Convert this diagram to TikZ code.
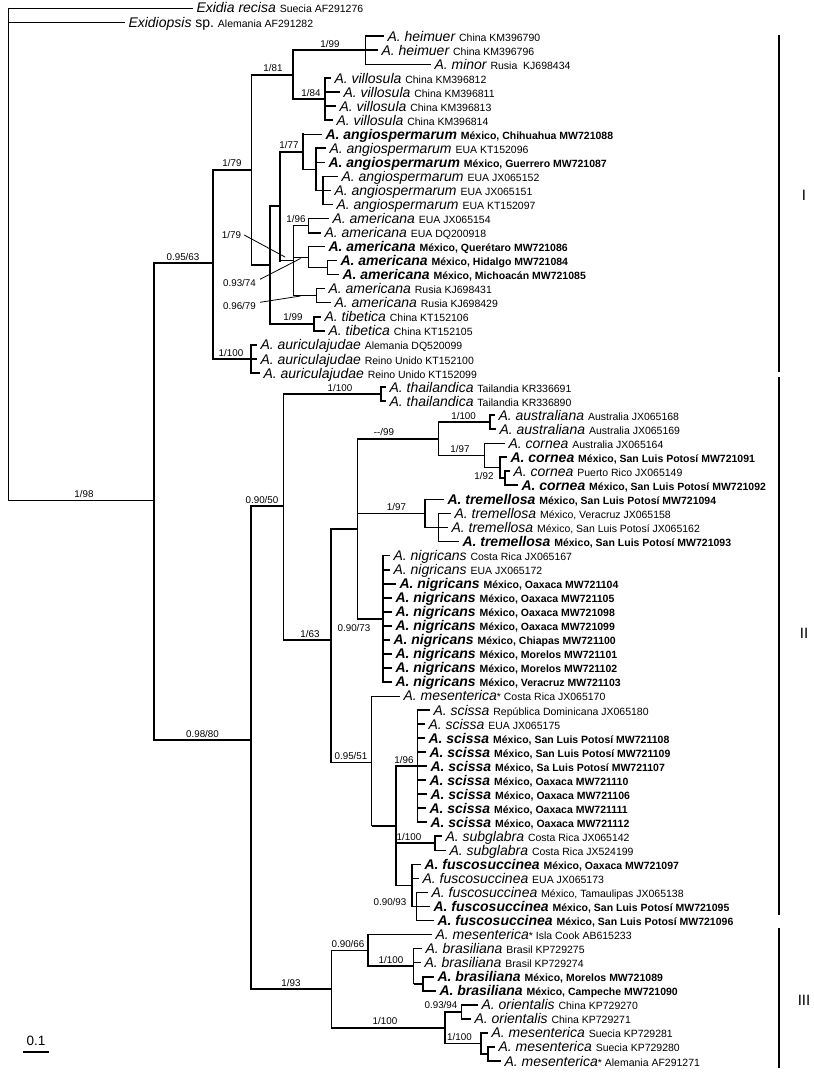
\documentclass[tikz,border=0pt]{standalone}
\usepackage{fontspec}
\setmainfont{Liberation Sans}
\newcommand\TaxI[2]{{\fontsize{14}{14}\selectfont\itshape #1\ }{\fontsize{10.5}{10.5}\selectfont #2}}
\newcommand\TaxB[2]{{\fontsize{14}{14}\selectfont\bfseries\itshape #1\ }{\fontsize{10.5}{10.5}\selectfont\bfseries #2}}
\newcommand\TaxS[2]{{\fontsize{14}{14}\selectfont\itshape #1}{\fontsize{10.5}{10.5}\selectfont *\ #2}}
\newcommand\Tip[4]{\node[tip] (#1) at (#2,#3) {#4};}
\newcommand\Vb[4][thk]{\draw[#1,line cap=rect] (#2 |- #3) -- (#2 |- #4);}
\newcommand\Hb[3][thk]{\draw[#1] (#2 |- #3) -- (#3);}
\begin{document}
\begin{tikzpicture}[x=1pt,y=-1pt,
  thk/.style={line width=1.8pt},
  thn/.style={line width=0.9pt},
  tip/.style={anchor=west,inner xsep=3.5pt,inner ysep=0pt,outer sep=0pt,text height=10pt,text depth=0pt},
  supp/.style={inner sep=0pt,text height=7pt,text depth=0pt,font=\fontsize{9.8}{9.8}\selectfont},
  ptr/.style={line width=0.8pt},
  grp/.style={line width=2.4pt},
  grplab/.style={font=\fontsize{15}{15}\selectfont,inner sep=0pt}]
\fill[white] (0,0) rectangle (813,1075);
\useasboundingbox (0,0) rectangle (813,1075);

% ---------- tips ----------
\Tip{L1}{193}{8.00}{{\fontsize{14}{14}\selectfont\itshape Exidia recisa\ }{\fontsize{10.5}{10.5}\selectfont Suecia AF291276}}
\Tip{L2}{125}{22.04}{{\fontsize{14}{14}\selectfont\itshape Exidiopsis}{\fontsize{14}{14}\selectfont\ sp.\ }{\fontsize{10.5}{10.5}\selectfont Alemania AF291282}}
\Tip{L3}{384}{36.08}{\TaxI{A. heimuer}{China KM396790}}
\Tip{L4}{378}{50.12}{\TaxI{A. heimuer}{China KM396796}}
\Tip{L5}{431}{64.16}{\TaxI{A. minor}{Rusia\ \ KJ698434}}
\Tip{L6}{331}{78.2}{\TaxI{A. villosula}{China KM396812}}
\Tip{L7}{340}{92.24}{\TaxI{A. villosula}{China KM396811}}
\Tip{L8}{336}{106.28}{\TaxI{A. villosula}{China KM396813}}
\Tip{L9}{333}{120.32}{\TaxI{A. villosula}{China KM396814}}
\Tip{L10}{322}{134.36}{\TaxB{A. angiospermarum}{México, Chihuahua MW721088}}
\Tip{L11}{326}{148.4}{\TaxI{A. angiospermarum}{EUA KT152096}}
\Tip{L12}{325}{162.44}{\TaxB{A. angiospermarum}{México, Guerrero MW721087}}
\Tip{L13}{338}{176.48}{\TaxI{A. angiospermarum}{EUA JX065152}}
\Tip{L14}{331}{190.52}{\TaxI{A. angiospermarum}{EUA JX065151}}
\Tip{L15}{333}{204.56}{\TaxI{A. angiospermarum}{EUA KT152097}}
\Tip{L16}{329}{218.6}{\TaxI{A. americana}{EUA JX065154}}
\Tip{L17}{321}{232.64}{\TaxI{A. americana}{EUA DQ200918}}
\Tip{L18}{325}{246.68}{\TaxB{A. americana}{México, Querétaro MW721086}}
\Tip{L19}{337}{260.72}{\TaxB{A. americana}{México, Hidalgo MW721084}}
\Tip{L20}{339}{274.76}{\TaxB{A. americana}{México, Michoacán MW721085}}
\Tip{L21}{325}{288.8}{\TaxI{A. americana}{Rusia KJ698431}}
\Tip{L22}{331}{302.84}{\TaxI{A. americana}{Rusia KJ698429}}
\Tip{L23}{321}{316.88}{\TaxI{A. tibetica}{China KT152106}}
\Tip{L24}{325}{330.92}{\TaxI{A. tibetica}{China KT152105}}
\Tip{L25}{257}{344.96}{\TaxI{A. auriculajudae}{Alemania DQ520099}}
\Tip{L26}{257}{359.0}{\TaxI{A. auriculajudae}{Reino Unido KT152100}}
\Tip{L27}{260}{373.04}{\TaxI{A. auriculajudae}{Reino Unido KT152099}}
\Tip{L28}{386}{387.08}{\TaxI{A. thailandica}{Tailandia KR336691}}
\Tip{L29}{386}{401.12}{\TaxI{A. thailandica}{Tailandia KR336890}}
\Tip{L30}{495}{415.16}{\TaxI{A. australiana}{Australia JX065168}}
\Tip{L31}{496}{429.2}{\TaxI{A. australiana}{Australia JX065169}}
\Tip{L32}{505}{443.24}{\TaxI{A. cornea}{Australia JX065164}}
\Tip{L33}{507}{457.28}{\TaxB{A. cornea}{México, San Luis Potosí MW721091}}
\Tip{L34}{510}{471.32}{\TaxI{A. cornea}{Puerto Rico JX065149}}
\Tip{L35}{518}{485.36}{\TaxB{A. cornea}{México, San Luis Potosí MW721092}}
\Tip{L36}{444}{499.4}{\TaxB{A. tremellosa}{México, San Luis Potosí MW721094}}
\Tip{L37}{451}{513.44}{\TaxI{A. tremellosa}{México, Veracruz JX065158}}
\Tip{L38}{448}{527.48}{\TaxI{A. tremellosa}{México, San Luis Potosí JX065162}}
\Tip{L39}{459}{541.52}{\TaxB{A. tremellosa}{México, San Luis Potosí MW721093}}
\Tip{L40}{390}{555.56}{\TaxI{A. nigricans}{Costa Rica JX065167}}
\Tip{L41}{390}{569.6}{\TaxI{A. nigricans}{EUA JX065172}}
\Tip{L42}{396}{583.64}{\TaxB{A. nigricans}{México, Oaxaca MW721104}}
\Tip{L43}{392}{597.68}{\TaxB{A. nigricans}{México, Oaxaca MW721105}}
\Tip{L44}{392}{611.72}{\TaxB{A. nigricans}{México, Oaxaca MW721098}}
\Tip{L45}{392}{625.76}{\TaxB{A. nigricans}{México, Oaxaca MW721099}}
\Tip{L46}{390}{639.8}{\TaxB{A. nigricans}{México, Chiapas MW721100}}
\Tip{L47}{392}{653.84}{\TaxB{A. nigricans}{México, Morelos MW721101}}
\Tip{L48}{392}{667.88}{\TaxB{A. nigricans}{México, Morelos MW721102}}
\Tip{L49}{392}{681.92}{\TaxB{A. nigricans}{México, Veracruz MW721103}}
\Tip{L50}{400}{695.96}{\TaxS{A. mesenterica}{Costa Rica JX065170}}
\Tip{L51}{430}{710.0}{\TaxI{A. scissa}{República Dominicana JX065180}}
\Tip{L52}{425}{724.04}{\TaxI{A. scissa}{EUA JX065175}}
\Tip{L53}{425}{738.08}{\TaxB{A. scissa}{México, San Luis Potosí MW721108}}
\Tip{L54}{426}{752.12}{\TaxB{A. scissa}{México, San Luis Potosí MW721109}}
\Tip{L55}{427}{766.16}{\TaxB{A. scissa}{México, Sa Luis Potosí MW721107}}
\Tip{L56}{426}{780.2}{\TaxB{A. scissa}{México, Oaxaca MW721110}}
\Tip{L57}{427}{794.24}{\TaxB{A. scissa}{México, Oaxaca MW721106}}
\Tip{L58}{426}{808.28}{\TaxB{A. scissa}{México, Oaxaca MW721111}}
\Tip{L59}{427}{822.32}{\TaxB{A. scissa}{México, Oaxaca MW721112}}
\Tip{L60}{442}{836.36}{\TaxI{A. subglabra}{Costa Rica JX065142}}
\Tip{L61}{446}{850.4}{\TaxI{A. subglabra}{Costa Rica JX524199}}
\Tip{L62}{421}{864.44}{\TaxB{A. fuscosuccinea}{México, Oaxaca MW721097}}
\Tip{L63}{419}{878.48}{\TaxI{A. fuscosuccinea}{EUA JX065173}}
\Tip{L64}{428}{892.52}{\TaxI{A. fuscosuccinea}{México, Tamaulipas JX065138}}
\Tip{L65}{430}{906.56}{\TaxB{A. fuscosuccinea}{México, San Luis Potosí MW721095}}
\Tip{L66}{434}{920.6}{\TaxB{A. fuscosuccinea}{México, San Luis Potosí MW721096}}
\Tip{L67}{432}{934.64}{\TaxS{A. mesenterica}{Isla Cook AB615233}}
\Tip{L68}{422}{948.68}{\TaxI{A. brasiliana}{Brasil KP729275}}
\Tip{L69}{421}{962.72}{\TaxI{A. brasiliana}{Brasil KP729274}}
\Tip{L70}{434}{976.76}{\TaxB{A. brasiliana}{México, Morelos MW721089}}
\Tip{L71}{436}{990.8}{\TaxB{A. brasiliana}{México, Campeche MW721090}}
\Tip{L72}{478}{1004.84}{\TaxI{A. orientalis}{China KP729270}}
\Tip{L73}{471}{1018.88}{\TaxI{A. orientalis}{China KP729271}}
\Tip{L74}{488}{1032.92}{\TaxI{A. mesenterica}{Suecia KP729281}}
\Tip{L75}{495}{1046.96}{\TaxI{A. mesenterica}{Suecia KP729280}}
\Tip{L76}{501}{1061.0}{\TaxS{A. mesenterica}{Alemania AF291271}}

% ---------- internal nodes ----------
\coordinate (R) at (8,8);
\coordinate (A) at (154,500);
\coordinate (B) at (213,263);
\coordinate (C) at (251.5,169.9);
\coordinate (D) at (293,74.69);
\coordinate (E) at (365.5,50.12);
\coordinate (F) at (325,99.26);
\coordinate (H) at (270,265.11);
\coordinate (K) at (280,206.32);
\coordinate (J) at (302.6,151.91);
\coordinate (J2) at (316,169.46);
\coordinate (J3) at (323,190.52);
\coordinate (M) at (293,260.72);
\coordinate (N) at (308.4,225.62);
\coordinate (P) at (308.4,257.21);
\coordinate (P2) at (327.5,267.74);
\coordinate (Q) at (316,295.82);
\coordinate (T) at (314,323.9);
\coordinate (AUR) at (251,359.0);
\coordinate (G) at (251,740);
\coordinate (S) at (283.5,506);
\coordinate (TH) at (381,394.1);
\coordinate (W) at (331,640);
\coordinate (V) at (357.4,528.8);
\coordinate (U) at (438.5,438.85);
\coordinate (AU) at (490,422.18);
\coordinate (CO) at (484.4,455.53);
\coordinate (CO2) at (499.7,467.81);
\coordinate (CO3) at (505,478.34);
\coordinate (TR) at (425,513.44);
\coordinate (TR2) at (438.5,527.48);
\coordinate (NI) at (383,618.74);
\coordinate (X) at (371.5,762);
\coordinate (Z) at (395.6,825.83);
\coordinate (SC) at (417.5,766.16);
\coordinate (SG) at (434.7,843.38);
\coordinate (FU) at (411.7,885.5);
\coordinate (FU2) at (416,906.56);
\coordinate (III) at (331.4,989.05);
\coordinate (BR) at (367.7,950.44);
\coordinate (BR2) at (413.6,966.23);
\coordinate (BR3) at (423,983.78);
\coordinate (OM) at (445,1027.66);
\coordinate (OR) at (461.5,1011.86);
\coordinate (ME) at (480.6,1043.45);
\coordinate (ME2) at (488.3,1053.98);

% ---------- branches ----------
\Vb[thn]{R}{L1}{A} \Hb[thn]{R}{L1} \Hb[thn]{R}{L2} \Hb[thn]{R}{A}
\Vb{A}{B}{G} \Hb{A}{B} \Hb{A}{G}
\Vb{B}{C}{AUR} \Hb{B}{C} \Hb{B}{AUR}
\Vb{C}{D}{H} \Hb{C}{D} \Hb{C}{H}
\Vb{D}{E}{F} \Hb{D}{E} \Hb{D}{F}
\Vb{E}{L3}{L5} \Hb{E}{L3} \Hb{E}{L4} \Hb[thn]{E}{L5}
\Vb{F}{L6}{L9} \Hb{F}{L6} \Hb{F}{L7} \Hb{F}{L8} \Hb{F}{L9}
\Vb{H}{K}{T} \Hb{H}{K} \Hb{H}{T}
\Vb{K}{J}{M} \Hb{K}{J} \Hb[thn]{K}{M}
\Vb{J}{L10}{J2} \Hb[thn]{J}{L10} \Hb{J}{J2}
\Vb{J2}{L11}{J3} \Hb{J2}{L11} \Hb{J2}{L12} \Hb{J2}{J3}
\Vb{J3}{L13}{L15} \Hb{J3}{L13} \Hb{J3}{L14} \Hb{J3}{L15}
\Vb[thn]{M}{N}{Q} \Hb[thn]{M}{N} \Hb[thn]{M}{P} \Hb[thn]{M}{Q}
\Vb{N}{L16}{L17} \Hb{N}{L16} \Hb{N}{L17}
\Vb[thn]{P}{L18}{P2} \Hb[thn]{P}{L18} \Hb[thn]{P}{P2}
\Vb[thn]{P2}{L19}{L20} \Hb[thn]{P2}{L19} \Hb[thn]{P2}{L20}
\Vb[thn]{Q}{L21}{L22} \Hb[thn]{Q}{L21} \Hb[thn]{Q}{L22}
\Vb{T}{L23}{L24} \Hb{T}{L23} \Hb{T}{L24}
\Vb{AUR}{L25}{L27} \Hb{AUR}{L25} \Hb{AUR}{L26} \Hb{AUR}{L27}
\Vb{G}{S}{III} \Hb{G}{S} \Hb{G}{III}
\Vb{S}{TH}{W} \Hb{S}{TH} \Hb{S}{W}
\Vb{TH}{L28}{L29} \Hb{TH}{L28} \Hb{TH}{L29}
\Vb{W}{V}{X} \Hb{W}{V} \Hb[thn]{W}{X}
\Vb{V}{U}{NI} \Hb{V}{U} \Hb{V}{TR} \Hb{V}{NI}
\Vb{U}{AU}{CO} \Hb{U}{AU} \Hb[thn]{U}{CO}
\Vb{AU}{L30}{L31} \Hb{AU}{L30} \Hb{AU}{L31}
\Vb[thn]{CO}{L32}{CO2} \Hb[thn]{CO}{L32} \Hb[thn]{CO}{CO2}
\Vb{CO2}{L33}{CO3} \Hb{CO2}{L33} \Hb{CO2}{CO3}
\Vb{CO3}{L34}{L35} \Hb{CO3}{L34} \Hb{CO3}{L35}
\Vb{TR}{L36}{TR2} \Hb{TR}{L36} \Hb{TR}{TR2}
\Vb{TR2}{L37}{L39} \Hb{TR2}{L37} \Hb{TR2}{L38} \Hb{TR2}{L39}
\Vb{NI}{L40}{L49}
\foreach \i in {40,...,49} {\Hb{NI}{L\i}}
\Vb[thn]{X}{L50}{Z} \Hb[thn]{X}{L50} \Hb{X}{Z}
\Vb{Z}{SC}{FU} \Hb{Z}{SC} \Hb{Z}{SG} \Hb{Z}{FU}
\Vb{SC}{L51}{L59}
\foreach \i in {51,...,59} {\Hb{SC}{L\i}}
\Vb{SG}{L60}{L61} \Hb{SG}{L60} \Hb{SG}{L61}
\Vb{FU}{L62}{FU2} \Hb{FU}{L62} \Hb{FU}{L63} \Hb[thn]{FU}{FU2}
\Vb[thn]{FU2}{L64}{L66} \Hb[thn]{FU2}{L64} \Hb[thn]{FU2}{L65} \Hb[thn]{FU2}{L66}
\Vb{III}{BR}{OM} \Hb{III}{BR} \Hb{III}{OM}
\Vb{BR}{L67}{BR2} \Hb[thn]{BR}{L67} \Hb{BR}{BR2}
\Vb[thn]{BR2}{L68}{BR3} \Hb[thn]{BR2}{L68} \Hb[thn]{BR2}{L69} \Hb{BR2}{BR3}
\Vb{BR3}{L70}{L71} \Hb{BR3}{L70} \Hb{BR3}{L71}
\Vb{OM}{OR}{ME} \Hb{OM}{OR} \Hb{OM}{ME}
\Vb{OR}{L72}{L73} \Hb{OR}{L72} \Hb{OR}{L73}
\Vb{ME}{L74}{ME2} \Hb{ME}{L74} \Hb{ME}{ME2}
\Vb{ME2}{L75}{L76} \Hb{ME2}{L75} \Hb{ME2}{L76}

% ---------- support values ----------
\node[supp] (s01) at (84,493.5) {1/98};
\node[supp] (s02) at (183,256.5) {0.95/63};
\node[supp] (s03) at (232,163.4) {1/79};
\node[supp] (s04) at (273,68.2) {1/81};
\node[supp] (s05) at (330,43.6) {1/99};
\node[supp] (s06) at (311,92.8) {1/84};
\node[supp] (s07) at (289,145.4) {1/77};
\node[supp] (s08) at (296,219.1) {1/96};
\node[supp] (s09) at (231.5,235) {1/79};
\node[supp] (s10) at (239.5,283) {0.93/74};
\node[supp] (s11) at (239.5,306) {0.96/79};
\node[supp] (s12) at (293,317.4) {1/99};
\node[supp] (s13) at (231,352.5) {1/100};
\node[supp] (s14) at (340,387.6) {1/100};
\node[supp] (s15) at (463.6,415.7) {1/100};
\node[supp] (s16) at (384,432.3) {-{}-/99};
\node[supp] (s17) at (460,449) {1/97};
\node[supp] (s18) at (484,476) {1/92};
\node[supp] (s19) at (396.5,506.9) {1/97};
\node[supp] (s20) at (262,499.5) {0.90/50};
\node[supp] (s21) at (310,633.5) {1/63};
\node[supp] (s22) at (354,628) {0.90/73};
\node[supp] (s23) at (351,755.5) {0.95/51};
\node[supp] (s24) at (404,759.7) {1/96};
\node[supp] (s25) at (409,836.9) {1/100};
\node[supp] (s26) at (390,901.7) {0.90/93};
\node[supp] (s27) at (348,943.9) {0.90/66};
\node[supp] (s28) at (391,959.7) {1/100};
\node[supp] (s29) at (291,982.5) {1/93};
\node[supp] (s30) at (441,1005.4) {0.93/94};
\node[supp] (s31) at (385,1021.2) {1/100};
\node[supp] (s32) at (459.5,1037) {1/100};
\node[supp] (s33) at (202.5,733.5) {0.98/80};

% pointer lines
\coordinate (q1) at (285,257);
\coordinate (q2) at (300.5,258.5);
\coordinate (q3) at (300.5,296);
\draw[ptr] ([xshift=3pt]s09.east) -- (q1);
\draw[ptr] ([xshift=4pt]s10.north east) -- (q2);
\draw[ptr] ([xshift=4pt]s11.north east) -- (q3);

% scale bar
\coordinate (sb1) at (22.7,1052);
\coordinate (sb2) at (49.3,1052);
\draw[line width=1.5pt] (sb1) -- (sb2);
\node[inner sep=0pt,font=\fontsize{13.5}{13.5}\selectfont] (sbl) at (36,1041) {0.1};

% group bars
\coordinate (b1a) at (779,35);  \coordinate (b1b) at (779,372);
\coordinate (b2a) at (779,377); \coordinate (b2b) at (779,915);
\coordinate (b3a) at (779,928); \coordinate (b3b) at (779,1068);
\draw[grp] (b1a) -- (b1b);
\draw[grp] (b2a) -- (b2b);
\draw[grp] (b3a) -- (b3b);
\node[grplab] (gI) at (804,195) {I};
\node[grplab] (gII) at (804,633) {II};
\node[grplab] (gIII) at (804,1000) {III};
\end{tikzpicture}
\end{document}
